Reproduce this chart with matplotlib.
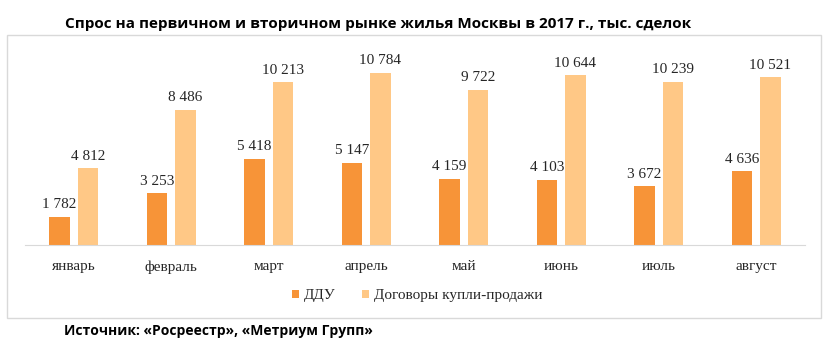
import matplotlib.pyplot as plt
import numpy as np
from matplotlib.patches import Rectangle

categories = ["январь", "февраль", "март", "апрель", "май", "июнь", "июль", "август"]
ddu = [1782, 3253, 5418, 5147, 4159, 4103, 3672, 4636]
dkp = [4812, 8486, 10213, 10784, 9722, 10644, 10239, 10521]
labels_ddu = ["1 782", "3 253", "5 418", "5 147", "4 159", "4 103", "3 672", "4 636"]
labels_dkp = ["4 812", "8 486", "10 213", "10 784", "9 722", "10 644", "10 239", "10 521"]

W, H = 836, 358
fig = plt.figure(figsize=(W/100, H/100), dpi=100)

# frame
fig.patches.append(Rectangle((7/W, 1-318/H), (821-7)/W, (318-35)/H, transform=fig.transFigure,
                             fill=False, edgecolor="#d9d9d9", linewidth=1.0))

ax = fig.add_axes([25/W, 1-245/H, (805-25)/W, (245-73)/H])
x = np.arange(len(categories))
bw = 0.21
off = 0.145
c1 = "#F79438"
c2 = "#FFC886"
ax.bar(x - off, ddu, bw, color=c1, label="ДДУ")
ax.bar(x + off, dkp, bw, color=c2, label="Договоры купли-продажи")
ax.set_xlim(-0.5, len(categories) - 0.5)
ax.set_ylim(0, 10784)
serif = "Liberation Serif"
for xi, v, l in zip(x, ddu, labels_ddu):
    ax.annotate(l, (xi - off, v), xytext=(0, 4), textcoords="offset points",
                ha="center", va="bottom", fontsize=11, family=serif, color="#262626")
for xi, v, l in zip(x, dkp, labels_dkp):
    ax.annotate(l, (xi + off, v), xytext=(0, 4), textcoords="offset points",
                ha="center", va="bottom", fontsize=11, family=serif, color="#262626")
for s in ["top", "right", "left"]:
    ax.spines[s].set_visible(False)
ax.spines["bottom"].set_color("#d9d9d9")
ax.set_yticks([])
ax.set_xticks(x)
ax.set_xticklabels(categories, family=serif, fontsize=11, color="#262626")
ax.tick_params(axis="x", length=0, pad=11)
ax.patch.set_alpha(0)

leg = fig.legend(loc="center", bbox_to_anchor=(417/W, 1-296/H), ncol=2, frameon=False,
                 prop={"family": serif, "size": 11}, handlelength=0.5, handleheight=0.5,
                 handletextpad=0.3, columnspacing=1.7)
for t in leg.get_texts():
    t.set_color("#262626")

fig.text(378/W, 1-24/H, "Спрос на первичном и вторичном рынке жилья Москвы в 2017 г., тыс. сделок",
         ha="center", va="center", fontsize=11, fontweight="bold", family="Open Sans", color="black")
fig.text(218/W, 1-331/H, "Источник: «Росреестр», «Метриум Групп»",
         ha="center", va="center", fontsize=10, fontweight="bold", family="Open Sans", color="black")

fig.savefig("out.png", dpi=100)
